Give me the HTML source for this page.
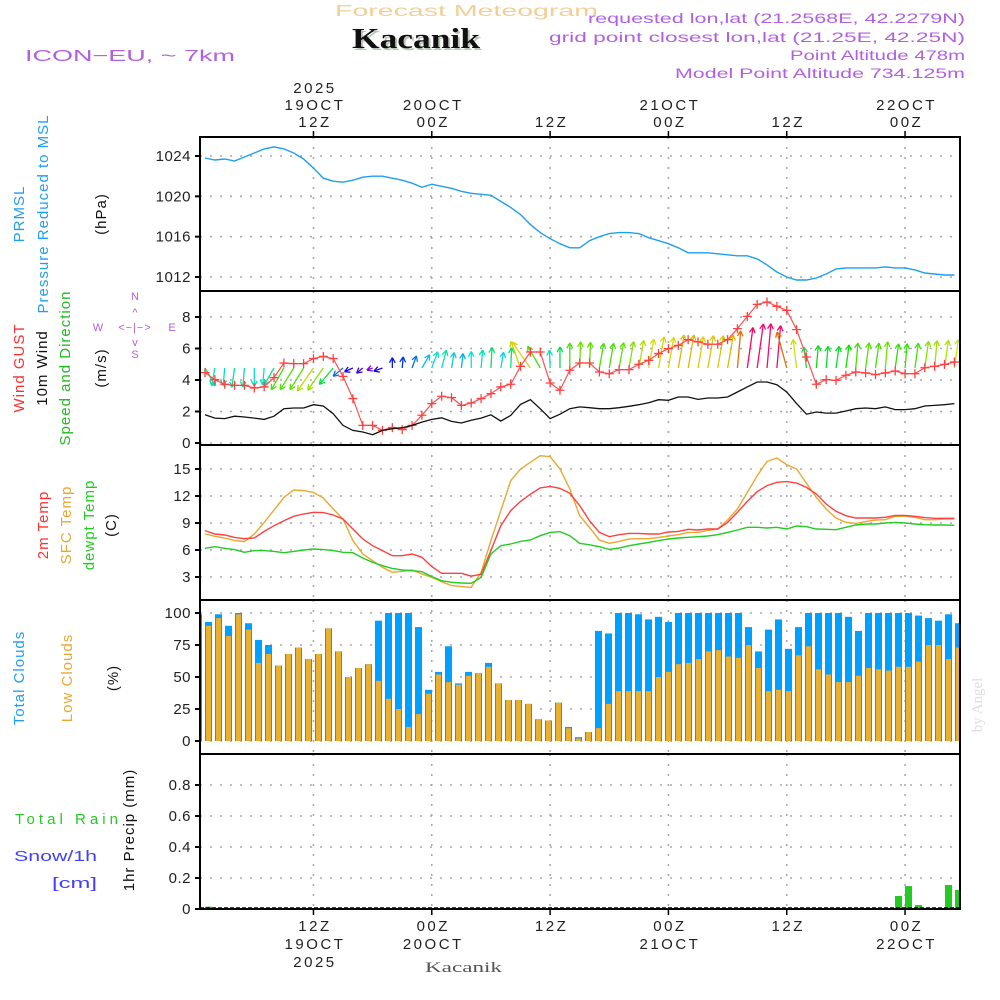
<!DOCTYPE html>
<html><head><meta charset="utf-8"><title>Forecast Meteogram Kacanik</title>
<style>
html,body{margin:0;padding:0;background:#fff;}
svg{display:block;font-family:"Liberation Sans",sans-serif;}
.t{font-size:15px;letter-spacing:1px;}
.tk{font-size:15px;fill:#222;}
</style></head>
<body>
<svg id="chart" width="1000" height="1000" viewBox="0 0 1000 1000" xmlns="http://www.w3.org/2000/svg">
<rect width="1000" height="1000" fill="#fff"/>
<text x="335" y="16" textLength="263" lengthAdjust="spacingAndGlyphs" font-size="16" fill="#f2cf96">Forecast Meteogram</text>
<text x="354" y="50" textLength="128" lengthAdjust="spacingAndGlyphs" font-family="Liberation Serif,serif" font-weight="bold" font-size="28" fill="#b8c8b8">Kacanik</text>
<text x="352" y="48" textLength="128" lengthAdjust="spacingAndGlyphs" font-family="Liberation Serif,serif" font-weight="bold" font-size="28" fill="#111">Kacanik</text>
<text x="25" y="61" textLength="210" lengthAdjust="spacingAndGlyphs" font-size="16" fill="#b060e0">ICON−EU, ~ 7km</text>
<g font-size="14" fill="#b060e0">
<text x="588" y="23" textLength="377" lengthAdjust="spacingAndGlyphs">requested lon,lat (21.2568E, 42.2279N)</text>
<text x="549" y="42" textLength="416" lengthAdjust="spacingAndGlyphs">grid point closest lon,lat (21.25E, 42.25N)</text>
<text x="790" y="60" textLength="175" lengthAdjust="spacingAndGlyphs">Point Altitude 478m</text>
<text x="675" y="78" textLength="290" lengthAdjust="spacingAndGlyphs">Model Point Altitude 734.125m</text>
</g>
<g id="grid"></g>
<g id="marks"></g>
<g id="frames"></g>
<g id="axes"></g>

<g class="t">
<text transform="translate(24,214) rotate(-90)" text-anchor="middle" fill="#1e9ff0">PRMSL</text>
<text transform="translate(48,214) rotate(-90)" text-anchor="middle" fill="#1e9ff0">Pressure Reduced to MSL</text>
<text transform="translate(106,214) rotate(-90)" text-anchor="middle" fill="#111">(hPa)</text>
</g>
<g class="t">
<text transform="translate(24,368) rotate(-90)" text-anchor="middle" fill="#ff3030">Wind GUST</text>
<text transform="translate(47,368) rotate(-90)" text-anchor="middle" fill="#111">10m Wind</text>
<text transform="translate(70,368) rotate(-90)" text-anchor="middle" fill="#22bb22">Speed and Direction</text>
<text transform="translate(106,368) rotate(-90)" text-anchor="middle" fill="#111">(m/s)</text>
</g>
<g font-size="11" fill="#b060e0">
<text x="135" y="300" text-anchor="middle">N</text>
<text x="135" y="358" text-anchor="middle">S</text>
<text x="98" y="331" text-anchor="middle">W</text>
<text x="172" y="331" text-anchor="middle">E</text>
<text x="135" y="331" text-anchor="middle" letter-spacing="1">&lt;−|−&gt;</text>
<text x="135" y="316" text-anchor="middle">^</text>
<text x="135" y="346" text-anchor="middle">v</text>
</g>
<g class="t">
<text transform="translate(48,525) rotate(-90)" text-anchor="middle" fill="#ff3030">2m Temp</text>
<text transform="translate(71,525) rotate(-90)" text-anchor="middle" fill="#e8a830">SFC Temp</text>
<text transform="translate(94,525) rotate(-90)" text-anchor="middle" fill="#22cc22">dewpt Temp</text>
<text transform="translate(116,525) rotate(-90)" text-anchor="middle" fill="#111">(C)</text>
</g>
<g class="t">
<text transform="translate(24,678) rotate(-90)" text-anchor="middle" fill="#1e9ff0">Total Clouds</text>
<text transform="translate(72,678) rotate(-90)" text-anchor="middle" fill="#e8a830">Low Clouds</text>
<text transform="translate(118,678) rotate(-90)" text-anchor="middle" fill="#111">(%)</text>
</g>
<g font-size="15">
<text x="15" y="824" textLength="103" lengthAdjust="spacing" fill="#22cc22">Total  Rain</text>
<text x="14" y="861" textLength="83" lengthAdjust="spacingAndGlyphs" fill="#4040ff">Snow/1h</text>
<text x="52" y="888" textLength="45" lengthAdjust="spacingAndGlyphs" fill="#4040ff">[cm]</text>
<text class="t" transform="translate(134,830) rotate(-90)" text-anchor="middle" fill="#111">1hr Precip (mm)</text>
</g>
<text transform="translate(982,705) rotate(-90)" text-anchor="middle" font-family="Liberation Serif,serif" font-size="15" fill="#dddddd">by Angel</text>
<text x="425" y="972" textLength="77" lengthAdjust="spacingAndGlyphs" font-family="Liberation Serif,serif" font-size="15" fill="#555">Kacanik</text>
</svg>
<script>
const hours = [1,2,3,4,5,6,7,8,9,10,11,12,13,14,15,16,17,18,19,20,21,22,23,24,25,26,27,28,29,30,31,32,33,34,35,36,37,38,39,40,41,42,43,44,45,46,47,48,49,50,51,52,53,54,55,56,57,58,59,60,61,62,63,64,65,66,67,68,69,70,71,72,73,74,75,76,77];
const pressure = [1023.8,1023.6,1023.7,1023.5,1023.9,1024.3,1024.7,1024.9,1024.7,1024.3,1023.7,1022.8,1021.8,1021.5,1021.4,1021.6,1021.9,1022.0,1022.0,1021.8,1021.6,1021.3,1020.9,1021.2,1021.0,1020.8,1020.5,1020.3,1020.2,1020.1,1019.5,1018.9,1018.2,1017.2,1016.4,1015.8,1015.3,1014.9,1014.9,1015.6,1016.0,1016.3,1016.4,1016.4,1016.3,1015.9,1015.6,1015.3,1014.9,1014.4,1014.4,1014.4,1014.3,1014.2,1014.1,1014.1,1013.8,1013.2,1012.5,1012.0,1011.7,1011.7,1011.9,1012.3,1012.8,1012.9,1012.9,1012.9,1012.9,1013.0,1012.9,1012.9,1012.7,1012.4,1012.3,1012.2,1012.2];
const gust = [4.47,4.02,3.73,3.66,3.66,3.49,3.56,4.15,5.08,5.04,5.04,5.36,5.5,5.36,4.23,2.82,1.12,1.12,0.81,0.98,0.85,1.12,1.76,2.5,2.97,2.88,2.39,2.54,2.82,3.13,3.56,3.73,4.87,5.78,5.78,3.81,3.35,4.62,5.08,5.08,4.51,4.4,4.66,4.66,5.0,5.25,5.68,5.99,6.2,6.56,6.42,6.27,6.27,6.56,7.26,8.04,8.8,8.95,8.68,8.42,7.2,5.46,3.73,4.02,3.98,4.3,4.51,4.45,4.34,4.45,4.57,4.4,4.4,4.78,4.87,4.99,5.14];
const windSpeed = [1.79,1.58,1.55,1.7,1.65,1.58,1.5,1.7,2.18,2.22,2.22,2.43,2.35,1.86,1.12,0.8,0.7,0.53,0.8,0.91,0.97,1.12,1.33,1.5,1.6,1.37,1.27,1.44,1.58,1.79,1.39,1.75,2.45,2.75,2.18,1.55,1.83,2.18,2.29,2.24,2.18,2.18,2.24,2.33,2.43,2.56,2.75,2.71,2.92,2.92,2.77,2.86,2.86,2.92,3.24,3.56,3.87,3.87,3.7,3.24,2.5,1.83,1.97,1.9,1.9,2.03,2.18,2.22,2.18,2.29,2.12,2.12,2.18,2.35,2.39,2.43,2.5];
const windDir = [330,10,5,8,5,0,5,30,30,32,32,35,35,40,50,66,50,70,70,180,185,200,210,200,195,190,187,180,185,183,190,183,160,145,150,178,180,180,182,182,190,190,190,190,190,190,190,190,190,190,190,190,190,190,185,188,188,185,185,165,173,173,185,185,188,188,185,188,188,185,188,185,188,188,185,188,188];
const temp2m = [8.15,7.78,7.67,7.4,7.26,7.33,8.07,8.7,9.26,9.74,10.0,10.19,10.15,9.89,9.44,8.33,7.22,6.48,5.93,5.37,5.37,5.56,5.19,4.15,3.41,3.41,3.41,3.1,3.3,5.93,8.7,10.37,11.4,12.2,12.9,13.07,12.85,12.3,10.93,9.26,7.96,7.48,7.7,7.85,7.85,7.78,7.78,8.0,8.07,8.3,8.22,8.33,8.33,9.07,10.19,11.4,12.48,13.15,13.52,13.6,13.44,12.96,12.22,11.11,10.3,9.81,9.56,9.56,9.56,9.63,9.85,9.85,9.74,9.6,9.52,9.52,9.52];
const tempSfc = [7.78,7.52,7.33,7.04,6.93,7.78,9.07,10.44,11.85,12.67,12.6,12.4,11.78,10.56,9.44,7.04,5.56,4.81,4.07,3.52,3.63,3.78,3.33,2.96,2.48,2.04,1.93,1.85,3.52,7.04,10.37,13.7,15.0,15.74,16.48,16.37,15.0,12.78,9.81,8.5,7.1,6.74,6.96,7.22,7.26,7.26,7.4,7.56,7.7,7.96,7.96,8.15,8.33,9.33,10.56,12.4,14.26,15.85,16.22,15.48,15.0,13.4,11.85,10.56,9.56,9.07,8.96,9.15,9.33,9.37,9.74,9.74,9.63,9.37,9.37,9.44,9.44];
const dewpt = [6.19,6.37,6.19,6.04,5.74,5.93,5.93,5.85,5.7,5.85,6.0,6.11,6.04,5.93,5.74,5.7,5.11,4.63,4.26,3.96,3.78,3.7,3.59,3.04,2.59,2.41,2.33,2.3,2.96,5.56,6.48,6.67,6.96,7.11,7.59,7.96,8.04,7.59,6.74,6.58,6.37,6.07,6.22,6.48,6.67,6.85,7.04,7.22,7.33,7.41,7.48,7.56,7.7,7.96,8.22,8.52,8.52,8.44,8.52,8.33,8.67,8.59,8.33,8.3,8.26,8.52,8.78,8.89,8.89,9.0,9.07,9.0,8.89,8.81,8.78,8.78,8.74];
const totalClouds = [99,93,99,90,100,92,79,75,59,68,73,64,68,88,70,50,57,60,94,100,100,100,89,40,54,74,45,54,53,61,45,32,32,29,17,16,30,11,3,7,86,84,100,100,99,95,97,93,100,100,100,100,100,100,100,89,70,87,95,72,89,100,100,100,100,97,86,100,100,100,100,100,98,96,94,99,92];
const lowClouds = [88,90,96,82,99,87,61,68,59,68,73,64,68,88,70,50,57,60,47,33,25,11,21,37,52,46,44,51,53,58,45,32,32,29,17,16,30,10,2,7,10,29,39,39,39,39,50,54,60,61,64,70,71,66,65,75,57,39,40,39,67,74,56,52,46,46,51,57,56,55,58,58,62,75,75,64,73];
const precip = [0,0.015,0,0,0,0,0,0,0,0,0,0,0,0,0,0,0,0,0,0,0,0,0,0,0,0,0,0,0,0,0,0,0,0,0,0,0,0,0,0,0,0,0,0,0,0,0,0,0,0,0,0,0,0,0,0,0,0,0,0,0,0,0,0,0,0,0,0,0,0,0.084,0.148,0.026,0,0,0.155,0.123];
const pTicks = [1012,1016,1020,1024];
const wTicks = [0,2,4,6,8];
const tTicks = [3,6,9,12,15];
const cTicks = [0,25,50,75,100];
const rTicks = [0,0.2,0.4,0.6,0.8];
const rTickLabels = ["0","0.2","0.4","0.6","0.8"];
const timeTicks = [12,24,36,48,60,72];
const topLabels = [["2025","19OCT","12Z"],["","20OCT","00Z"],["","","12Z"],["","21OCT","00Z"],["","","12Z"],["","22OCT","00Z"]];
const botLabels = [["12Z","19OCT","2025"],["00Z","20OCT",""],["12Z","",""],["00Z","21OCT",""],["12Z","",""],["00Z","22OCT",""]];

const NS="http://www.w3.org/2000/svg";
const L=200,R=960;
function X(t){return 205+(t-1)*9.86;}
function BX(i){return 195+i*10;}
function lin(d0,d1,r0,r1){return v=>r0+(v-d0)*(r1-r0)/(d1-d0);}
const Yp=lin(1012,1024,277,156), Yw=lin(0,8,443,317), Yt=lin(3,15,577,469), Yc=lin(0,100,741,613), Yr=lin(0,0.8,909,785);
const panels=[[137,291],[291,445],[445,600],[600,754],[754,909]];
function mk(tag,attrs,parent){const e=document.createElementNS(NS,tag);for(const k in attrs)e.setAttribute(k,attrs[k]);parent.appendChild(e);return e;}
const grid=document.getElementById('grid'),marks=document.getElementById('marks'),frames=document.getElementById('frames'),axes=document.getElementById('axes');

panels.forEach(p=>{timeTicks.forEach(t=>{const l=mk('line',{x1:X(t),x2:X(t),y1:p[0],y2:p[1],stroke:'#aaa','stroke-width':1.6,'stroke-dasharray':'2,8'},grid);

});});
function hgrid(ticks,Y,labels,name){ticks.forEach((v,i)=>{const y=Y(v);
const g=mk('line',{x1:L,x2:R,y1:y,y2:y,stroke:'#aaa','stroke-width':1.6,'stroke-dasharray':'2,8'},grid);


const tk=mk('line',{x1:L-5,x2:L,y1:y,y2:y,stroke:'#000','stroke-width':2},axes);


const tx=mk('text',{x:L-9,y:y+5,'text-anchor':'end',class:'tk',style:'letter-spacing:0.5px'},axes);


tx.textContent=labels?labels[i]:String(v);});}
hgrid(pTicks,Yp,null,'pressure');hgrid(wTicks,Yw,null,'wind');hgrid(tTicks,Yt,null,'temp');hgrid(cTicks,Yc,null,'cloud');hgrid(rTicks,Yr,rTickLabels,'precip');

function poly(vals,Y,color,name,w){const pts=vals.map((v,i)=>X(hours[i]).toFixed(1)+','+Y(v).toFixed(1)).join(' ');
const p=mk('polyline',{points:pts,fill:'none',stroke:color,'stroke-width':w||1.4},marks);

}
poly(pressure,Yp,'#1e9ff0','pressure-line');

const hueStops=[[0.5,275],[0.9,235],[1.3,190],[1.7,160],[1.9,130],[2.2,100],[2.5,65],[2.9,50],[3.25,28],[3.6,-25]];
function hue(s){if(s<=hueStops[0][0])return hueStops[0][1];for(let i=1;i<hueStops.length;i++){if(s<=hueStops[i][0]){const a=hueStops[i-1],b=hueStops[i];return a[1]+(s-a[0])*(b[1]-a[1])/(b[0]-a[0]);}}return -25;}
windSpeed.forEach((s,i)=>{const x0=X(hours[i]),y0=368;const ang=(windDir[i]+180)*Math.PI/180;const len=11.5*s;
const x1=x0+Math.sin(ang)*len,y1=y0-Math.cos(ang)*len;const h=((hue(s)%360)+360)%360;const c='hsl('+h.toFixed(0)+',95%,'+(h>300||h<20?'50%':'45%')+')';
const g=mk('g',{stroke:c,'stroke-width':1.3,fill:'none'},marks);


mk('line',{x1:x0,y1:y0,x2:x1,y2:y1},g);
const bx=-Math.sin(ang),by=Math.cos(ang);
[0.5,-0.5].forEach(d=>{const ca=Math.cos(d),sa=Math.sin(d);const hx=bx*ca-by*sa,hy=bx*sa+by*ca;mk('line',{x1:x1,y1:y1,x2:x1+hx*6,y2:y1+hy*6},g);});});

poly(gust,Yw,'#ff5050','wind-gust-line',1.2);
gust.forEach((v,i)=>{const x=X(hours[i]),y=Yw(v);const c=mk('path',{d:'M'+(x-4.5)+' '+y+'h9M'+x+' '+(y-4.5)+'v9',stroke:'#ff4040','stroke-width':1.3},marks);

});
poly(windSpeed,Yw,'#111','wind-speed-line',1.3);

poly(tempSfc,Yt,'#e8a830','sfc-temp-line');
poly(temp2m,Yt,'#ff4040','2m-temp-line');
poly(dewpt,Yt,'#22cc22','dewpoint-line');

totalClouds.forEach((v,i)=>{const x=BX(i);const y=Yc(v);
const b=mk('rect',{x:x,y:y,width:7,height:Yc(0)-y,fill:'#00a0ff'},marks);


const y2=Yc(lowClouds[i]);
const o=mk('rect',{x:x+1,y:y2,width:5,height:Yc(0)-y2,fill:'#e8b030'},marks);

});
precip.forEach((v,i)=>{if(v<=0)return;const y=Yr(v);
const b=mk('rect',{x:BX(i),y:y,width:7,height:Yr(0)-y,fill:'#22cc22'},marks);

});
const bl=mk('line',{x1:L,x2:R,y1:908,y2:908,stroke:'#000','stroke-width':1.5,'stroke-dasharray':'4,2'},marks);



const cover=mk('rect',{x:961,y:130,width:39,height:790,fill:'#fff'},marks);


const cover2=mk('rect',{x:190,y:130,width:10,height:790,fill:'#fff'},marks);



panels.forEach(p=>{const r=mk('rect',{x:L,y:p[0],width:R-L,height:p[1]-p[0],fill:'none',stroke:'#000','stroke-width':2},frames);

});
axes.parentNode.appendChild(axes);

timeTicks.forEach((t,i)=>{const x=X(t);
const a=mk('line',{x1:x,x2:x,y1:131,y2:137,stroke:'#000','stroke-width':1.5},axes);


const b=mk('line',{x1:x,x2:x,y1:909,y2:915,stroke:'#000','stroke-width':1.5},axes);


topLabels[i].forEach((s,j)=>{if(!s)return;const tx=mk('text',{x:x+1.5,y:93+j*17,'text-anchor':'middle',class:'tk',style:'letter-spacing:2.5px'},axes);


tx.textContent=s;});
botLabels[i].forEach((s,j)=>{if(!s)return;const tx=mk('text',{x:x+1.5,y:931+j*18,'text-anchor':'middle',class:'tk',style:'letter-spacing:2.5px'},axes);


tx.textContent=s;});});
</script>
</body></html>
